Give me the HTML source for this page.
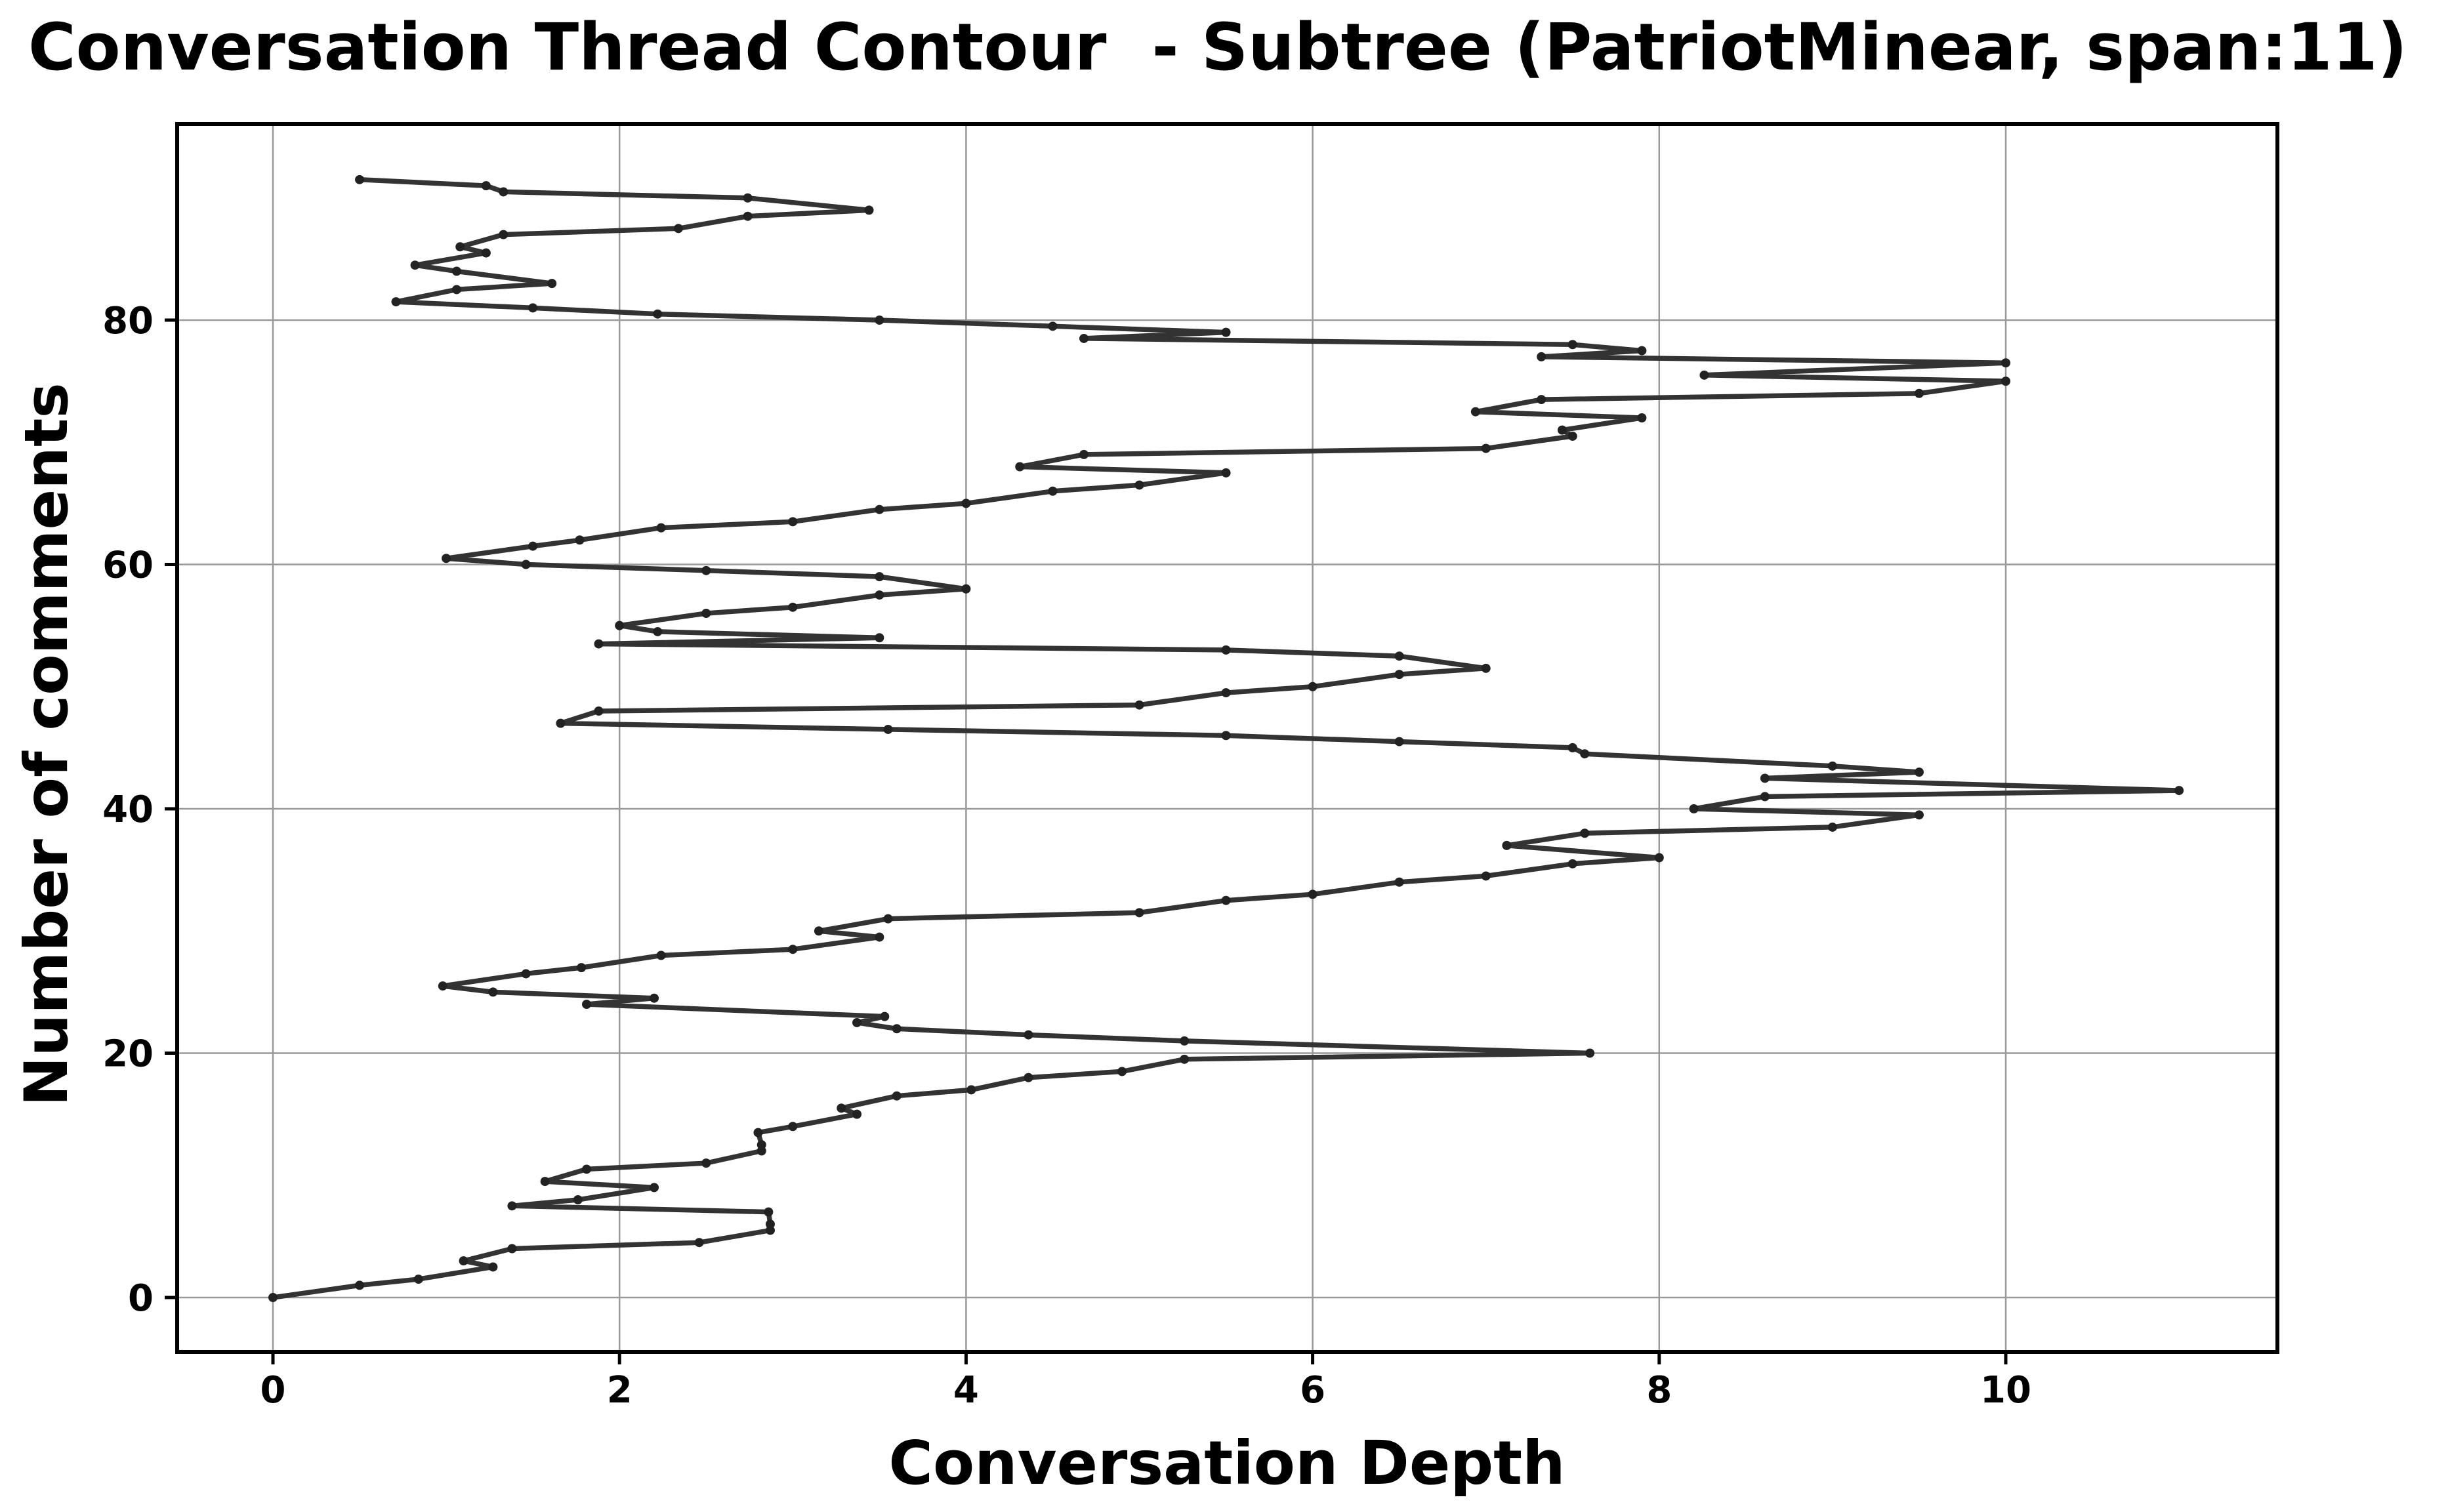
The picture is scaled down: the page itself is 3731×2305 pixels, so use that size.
<!DOCTYPE html>
<html><head><meta charset="utf-8"><style>
html,body{margin:0;padding:0;background:#fff}
svg{display:block}
text{font-family:"DejaVu Sans","Liberation Sans",sans-serif;font-weight:bold;fill:#000}
</style></head><body>
<svg id="chart" width="3731" height="2305" viewBox="0 0 3731 2305" xmlns="http://www.w3.org/2000/svg">
<rect width="3731" height="2305" fill="#fff"/>
<text x="43" y="106" font-size="99">Conversation Thread Contour&#160; - Subtree (PatriotMinear, span:11)</text>
<g id="grid"></g>
<g id="ticks"></g>
<g id="series"></g>
<rect x="270" y="189" width="3201" height="1872" fill="none" stroke="#000" stroke-width="6"/>
<text x="1870" y="2262" font-size="92" text-anchor="middle">Conversation Depth</text>
<text transform="translate(102,1135) rotate(-90)" font-size="91" text-anchor="middle">Number of comments</text>
</svg>
<script>
const depths=[0,0.5,0.84,1.27,1.1,1.38,2.46,2.87,2.87,2.86,1.38,1.76,2.2,1.57,1.81,2.5,2.82,2.82,2.8,3.0,3.37,3.28,3.6,4.03,4.36,4.9,5.26,7.6,5.26,4.36,3.6,3.37,3.53,1.81,2.2,1.27,0.98,1.46,1.78,2.24,3.0,3.5,3.15,3.55,5.0,5.5,6.0,6.5,7.0,7.5,8.0,7.12,7.57,9.0,9.5,8.2,8.61,11.0,8.61,9.5,9.0,7.57,7.5,6.5,5.5,3.55,1.66,1.88,5.0,5.5,6.0,6.5,7.0,6.5,5.5,1.88,3.5,2.22,2.0,2.5,3.0,3.5,4.0,3.5,2.5,1.46,1.0,1.5,1.77,2.24,3.0,3.5,4.0,4.5,5.0,5.5,4.31,4.68,7.0,7.5,7.44,7.9,6.94,7.32,9.5,10,8.26,10,7.32,7.9,7.5,4.68,5.5,4.5,3.5,2.22,1.5,0.71,1.06,1.61,1.06,0.82,1.23,1.08,1.33,2.34,2.74,3.44,2.74,1.33,1.23,0.5];
const comments=[0,1,1.5,2.5,3,4,4.5,5.5,6,7,7.5,8,9,9.5,10.5,11,12,12.5,13.5,14,15,15.5,16.5,17,18,18.5,19.5,20,21,21.5,22,22.5,23,24,24.5,25,25.5,26.5,27,28,28.5,29.5,30,31,31.5,32.5,33,34,34.5,35.5,36,37,38,38.5,39.5,40,41,41.5,42.5,43,43.5,44.5,45,45.5,46,46.5,47,48,48.5,49.5,50,51,51.5,52.5,53,53.5,54,54.5,55,56,56.5,57.5,58,59,59.5,60,60.5,61.5,62,63,63.5,64.5,65,66,66.5,67.5,68,69,69.5,70.5,71,72,72.5,73.5,74,75,75.5,76.5,77,77.5,78,78.5,79,79.5,80,80.5,81,81.5,82.5,83,84,84.5,85.5,86,87,87.5,88.5,89,90,90.5,91,91.5];
const xTicks=[0,2,4,6,8,10];
const yTicks=[0,20,40,60,80];
const X0=270,X1=3471,Y0=189,Y1=2061;
const xs=v=>416+v*264.1;
const ys=v=>1978-v*18.625;
const NS="http://www.w3.org/2000/svg";
function mk(tag,attrs,parent){const e=document.createElementNS(NS,tag);for(const k in attrs)e.setAttribute(k,attrs[k]);parent.appendChild(e);return e;}
const grid=document.getElementById('grid'),ticks=document.getElementById('ticks'),series=document.getElementById('series');
xTicks.forEach(t=>{
  const x=xs(t);
  const g=mk('line',{x1:x,x2:x,y1:Y0,y2:Y1,stroke:'#999',"stroke-width":2.5},grid);
  
  
  const tm=mk('line',{x1:x,x2:x,y1:Y1,y2:Y1+19,stroke:'#000',"stroke-width":5},ticks);
  
  
  const tx=mk('text',{x:x,y:2138,"font-size":56,"text-anchor":"middle"},ticks);
  tx.textContent=t;
  
  
});
yTicks.forEach(t=>{
  const y=ys(t);
  const g=mk('line',{x1:X0,x2:X1,y1:y,y2:y,stroke:'#999',"stroke-width":2.5},grid);
  
  
  const tm=mk('line',{x1:X0-19,x2:X0,y1:y,y2:y,stroke:'#000',"stroke-width":5},ticks);
  
  
  const tx=mk('text',{x:234,y:y+20,"font-size":56,"text-anchor":"end"},ticks);
  tx.textContent=t;
  
  
});
const pts=depths.map((d,i)=>xs(d).toFixed(1)+','+ys(comments[i]).toFixed(1)).join(' ');
const pl=mk('polyline',{points:pts,fill:'none',stroke:'#333',"stroke-width":7.5,"stroke-linejoin":"round"},series);


depths.forEach((d,i)=>{
  const c=mk('circle',{cx:xs(d),cy:ys(comments[i]),r:7,fill:'#222'},series);
  
  
});
</script>
</body></html>
